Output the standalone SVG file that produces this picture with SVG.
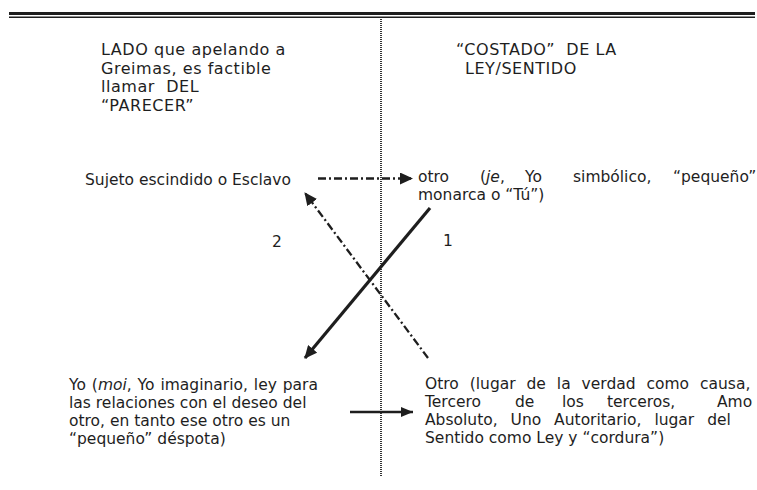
<svg xmlns="http://www.w3.org/2000/svg" width="757" height="490" viewBox="0 0 757 490">
<style>
text{font-family:"DejaVu Sans","Verdana",sans-serif;fill:#1e1e1e}
.h{font-size:16px;letter-spacing:0.55px}
.b{font-size:15.5px}
.ln{stroke:#1e1e1e;fill:none}
.dd{stroke-dasharray:8 3 2 3;stroke-width:2.3}
</style>
<defs>
<marker id="ah" markerUnits="userSpaceOnUse" markerWidth="14" markerHeight="12" refX="12" refY="6" orient="auto"><path d="M0,0 L13,6 L0,12 Z" fill="#1e1e1e"/></marker>
<marker id="ahs" markerUnits="userSpaceOnUse" markerWidth="14" markerHeight="12" refX="12" refY="5" orient="auto"><path d="M0,0 L12,5 L0,10 Z" fill="#1e1e1e"/></marker>
</defs>
<g id="frame">
<line x1="9" y1="13.5" x2="755" y2="13.5" class="ln" stroke-width="3"/>
<line x1="9" y1="17.3" x2="755" y2="17.3" class="ln" stroke-width="1.4"/>
<line x1="381" y1="19" x2="381" y2="477" class="ln" stroke-width="1.8" stroke-dasharray="1 1"/>
</g>
<g id="header-left" class="h">
<text x="101" y="55">LADO que apelando a</text>
<text x="101" y="73.7">Greimas, es factible</text>
<text x="101" y="92.4">llamar&#160; DEL</text>
<text x="101" y="111">“PARECER”</text>
</g>
<g id="header-right" class="h">
<text x="456" y="55">“COSTADO”&#160; DE LA</text>
<text x="465" y="73.7">LEY/SENTIDO</text>
</g>
<g id="node-sujeto" class="b">
<text x="85" y="185">Sujeto escindido o Esclavo</text>
</g>
<g id="node-otro" class="b">
<text x="418" y="182">otro</text>
<text x="480" y="182">(<tspan font-style="italic">je</tspan>,</text>
<text x="525" y="182">Yo</text>
<text x="573" y="182">simbólico,</text>
<text x="673" y="182">“pequeño”</text>
<text x="418" y="200">monarca o “Tú”)</text>
</g>
<g id="node-yo" class="b">
<text x="69" y="390" word-spacing="1">Yo (<tspan font-style="italic">moi</tspan>, Yo imaginario, ley para</text>
<text x="69" y="408">las relaciones con el deseo del</text>
<text x="69" y="426">otro, en tanto ese otro es un</text>
<text x="69" y="444">“pequeño” déspota)</text>
</g>
<g id="node-Otro" class="b">
<text x="425" y="389" word-spacing="6">Otro (lugar de la verdad como causa,</text>
<text x="425" y="407">Tercero</text>
<text x="515" y="407">de</text>
<text x="562" y="407">los</text>
<text x="607" y="407">terceros,</text>
<text x="717" y="407">Amo</text>
<text x="425" y="425" word-spacing="8">Absoluto, Uno Autoritario, lugar del</text>
<text x="425" y="443">Sentido como Ley y “cordura”)</text>
</g>
<g id="label-1" class="b"><text x="443" y="246">1</text></g>
<g id="label-2" class="b"><text x="272" y="247">2</text></g>
<g id="connectors">
<line x1="318" y1="178.5" x2="412" y2="178.5" class="ln dd" marker-end="url(#ah)"/>
<line x1="428" y1="358" x2="305" y2="193" class="ln dd" marker-end="url(#ah)"/>
<line x1="430" y1="208" x2="305" y2="358" class="ln" stroke-width="3.2" marker-end="url(#ah)"/>
<line x1="350" y1="412" x2="413" y2="412" class="ln" stroke-width="2.5" marker-end="url(#ahs)"/>
</g>
</svg>
